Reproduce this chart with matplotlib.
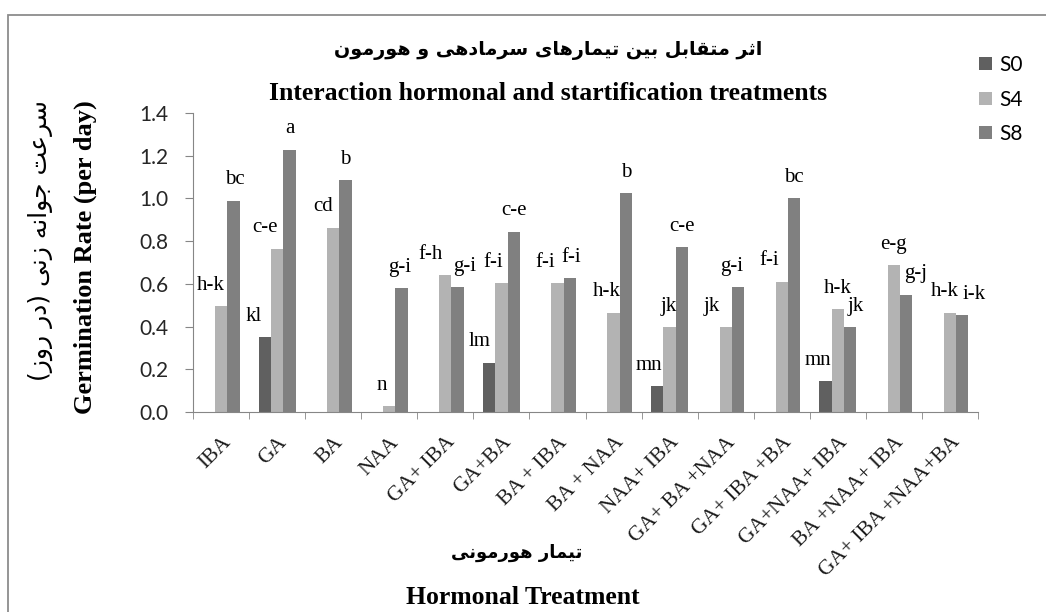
import matplotlib
matplotlib.use('Agg')
import matplotlib.pyplot as plt
import numpy as np
from matplotlib.patches import Rectangle
from matplotlib.transforms import ScaledTranslation

treatments = ['IBA', 'GA', 'BA', 'NAA', 'GA+ IBA', 'GA+BA', 'BA + IBA', 'BA + NAA',
              'NAA+ IBA', 'GA+ BA +NAA', 'GA+ IBA +BA', 'GA+NAA+ IBA', 'BA +NAA+ IBA',
              'GA+ IBA +NAA+BA']
series = ['S0', 'S4', 'S8']

s0 = [0, 0.35, 0, 0, 0, 0.23, 0, 0, 0.12, 0, 0, 0.145, 0, 0]
s4 = [0.494, 0.765, 0.862, 0.027, 0.640, 0.604, 0.604, 0.465, 0.397, 0.397, 0.610, 0.482, 0.688, 0.465]
s8 = [0.989, 1.229, 1.086, 0.579, 0.585, 0.843, 0.626, 1.025, 0.771, 0.583, 1.0, 0.397, 0.549, 0.452]

s0_letters = [None, 'kl', None, None, None, 'lm', None, None, 'mn', None, None, 'mn', None, None]
s4_letters = ['h-k', 'c-e', 'cd', 'n', 'f-h', 'f-i', 'f-i', 'h-k', 'jk', 'jk', 'f-i', 'h-k', 'e-g', 'h-k']
s8_letters = ['bc', 'a', 'b', 'g-i', 'g-i', 'c-e', 'f-i', 'b', 'c-e', 'g-i', 'bc', 'jk', 'g-j', 'i-k']

title_fa = 'اثر متقابل بین تیمارهای سرمادهی و هورمون'
title_en = 'Interaction hormonal and startification treatments'
ylabel_fa = 'سرعت جوانه زنی (در روز)'
ylabel_en = 'Germination Rate (per day)'
xlabel_fa = 'تیمار هورمونی'
xlabel_en = 'Hormonal Treatment'

# label nudges in pixels (the source chart places them a little off-centre)
shift0 = [0, -11, 0, 0, 0, -9, 0, 0, -8, 0, 0, -8, 0, 0]
shift4 = [-10, -12, -10, -7, -15, -8, -12, -7, -1, -14, -13, 0, 0, -5]
shift8 = [1, 0, 0, -2, 7, 0, 1, 0, 0, -6, 0, 6, 9, 12]

# --- tiny arabic-script shaper: presentation forms + visual order ---
FORMS = {
    'ا': ('\ufe8d', '\ufe8e'),
    'ب': ('\ufe8f', '\ufe90', '\ufe91', '\ufe92'),
    'ت': ('\ufe95', '\ufe96', '\ufe97', '\ufe98'),
    'ث': ('\ufe99', '\ufe9a', '\ufe9b', '\ufe9c'),
    'ج': ('\ufe9d', '\ufe9e', '\ufe9f', '\ufea0'),
    'د': ('\ufea9', '\ufeaa'),
    'ر': ('\ufead', '\ufeae'),
    'ز': ('\ufeaf', '\ufeb0'),
    'س': ('\ufeb1', '\ufeb2', '\ufeb3', '\ufeb4'),
    'ع': ('\ufec9', '\ufeca', '\ufecb', '\ufecc'),
    'ق': ('\ufed5', '\ufed6', '\ufed7', '\ufed8'),
    'ل': ('\ufedd', '\ufede', '\ufedf', '\ufee0'),
    'م': ('\ufee1', '\ufee2', '\ufee3', '\ufee4'),
    'ن': ('\ufee5', '\ufee6', '\ufee7', '\ufee8'),
    'ه': ('\ufee9', '\ufeea', '\ufeeb', '\ufeec'),
    'و': ('\ufeed', '\ufeee'),
    '\u06cc': ('\ufeef', '\ufef0', '\ufef3', '\ufef4'),
    '\u064a': ('\ufeef', '\ufef0', '\ufef3', '\ufef4'),
}


def fa(text):
    out = []
    for i, ch in enumerate(text):
        if ch not in FORMS:
            out.append(ch)
            continue
        f = FORMS[ch]
        prev = text[i - 1] if i > 0 else ''
        nxt = text[i + 1] if i + 1 < len(text) else ''
        jp = prev in FORMS and len(FORMS[prev]) == 4
        jn = len(f) == 4 and nxt in FORMS
        if jp and jn:
            out.append(f[3])
        elif jp:
            out.append(f[1])
        elif jn:
            out.append(f[2])
        else:
            out.append(f[0])
    vis = ''.join(reversed(out))
    return vis.translate(str.maketrans('()', ')('))


W, H = 1046, 612
fig = plt.figure(figsize=(W / 100, H / 100), dpi=100)
ax = fig.add_axes([193 / W, 1 - 412 / H, (978 - 193) / W, (412 - 113) / H])

x = np.arange(len(treatments))
bw = 0.22
colors = ['#606060', '#b3b3b3', '#808080']
bars = []
for k, (vals, c) in enumerate(zip([s0, s4, s8], colors)):
    bars.append(ax.bar(x + (k - 1) * bw, vals, bw, color=c, label=series[k]))

for k, (vals, labs, sh) in enumerate(zip([s0, s4, s8], [s0_letters, s4_letters, s8_letters],
                                         [shift0, shift4, shift8])):
    for i in range(len(treatments)):
        if labs[i] is None:
            continue
        ax.annotate(labs[i], xy=(x[i] + (k - 1) * bw, vals[i]),
                    xytext=(sh[i] * 0.72, 21 * 0.72), textcoords='offset points',
                    ha='center', va='center', family='Liberation Serif', fontsize=15)

ax.set_xlim(-0.5, len(treatments) - 0.5)
ax.set_ylim(0, 1.4)
ax.set_yticks(np.arange(0, 1.41, 0.2))
ax.set_yticklabels(['%.1f' % v for v in np.arange(0, 1.41, 0.2)], family='Lato', fontsize=15, color='#262626')
ax.tick_params(axis='y', length=6, color='#868686', pad=12)

ax.set_xticks(x)
ax.set_xticklabels(treatments, rotation=45, ha='right', va='center', rotation_mode='anchor',
                   family='Liberation Serif', fontsize=15.5, color='#1a1a1a')
ax.tick_params(axis='x', which='major', length=0, pad=20)
ax.set_xticks(np.arange(-0.5, len(treatments)), minor=True)
ax.tick_params(axis='x', which='minor', length=5, color='#868686')
for lab in ax.get_xticklabels():
    lab.set_transform(lab.get_transform() + ScaledTranslation(7 / 100, 0, fig.dpi_scale_trans))

for s in ['top', 'right']:
    ax.spines[s].set_visible(False)
for s in ['left', 'bottom']:
    ax.spines[s].set_color('#868686')

fig.legend(handles=bars, labels=series, loc='upper left', bbox_to_anchor=(979 / W, 1 - 55 / H),
           frameon=False, borderpad=0, borderaxespad=0, handlelength=0.6, handleheight=0.6,
           handletextpad=0.35, labelspacing=0.7, prop={'family': 'Lato', 'size': 15})

fig.text(548 / W, 1 - 50 / H, fa(title_fa), ha='center', va='center', family=['DejaVu Sans'],
         fontweight='bold', fontsize=13.8)
fig.text(548 / W, 1 - 94 / H, title_en, ha='center', va='center', family='Liberation Serif',
         fontweight='bold', fontsize=18.5)
fig.text(40 / W, 1 - 241 / H, fa(ylabel_fa), ha='center', va='center', rotation=90,
         family=['DejaVu Sans'], fontsize=18)
fig.text(85 / W, 1 - 257 / H, ylabel_en, ha='center', va='center', rotation=90,
         family='Liberation Serif', fontweight='bold', fontsize=19)
fig.text(517 / W, 1 - 553 / H, fa(xlabel_fa), ha='center', va='center', family=['DejaVu Sans'],
         fontweight='bold', fontsize=13)
fig.text(523 / W, 1 - 598 / H, xlabel_en, ha='center', va='center', family='Liberation Serif',
         fontweight='bold', fontsize=18.5)

fig.add_artist(Rectangle((8 / W, -0.1), 1.2, 1.1 - 15 / H, transform=fig.transFigure,
                         fill=False, edgecolor='#8c8c8c', lw=1.3, clip_on=False))

fig.savefig('out.png', dpi=100)
